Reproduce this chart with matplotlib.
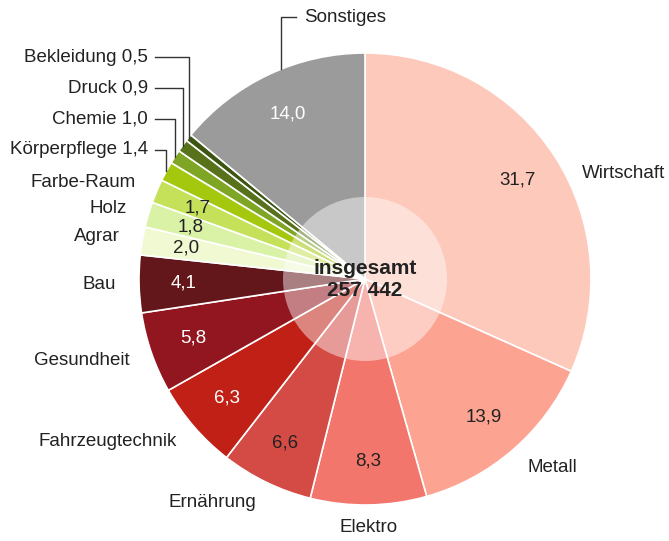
import numpy as np
import matplotlib.pyplot as plt
from matplotlib.patches import Circle

plt.rcParams['font.family'] = ['Liberation Sans', 'DejaVu Sans']

# Anteile in Prozent, im Uhrzeigersinn ab 12 Uhr
branchen = ["Wirtschaft", "Metall", "Elektro", "Ernährung", "Fahrzeugtechnik",
            "Gesundheit", "Bau", "Agrar", "Holz", "Farbe-Raum", "Körperpflege",
            "Chemie", "Druck", "Bekleidung", "Sonstiges"]
anteile = [31.7, 13.9, 8.3, 6.6, 6.3, 5.8, 4.1, 2.0, 1.8, 1.7, 1.4, 1.0, 0.9, 0.5, 14.0]
farben = ["#fdc9bb", "#fca391", "#f2766c", "#d44a44", "#c02015",
          "#92161f", "#63171a", "#f0f9d2", "#d9f2a6", "#c5e15a", "#a4c80e",
          "#7ea624", "#58721c", "#3c5510", "#9b9b9b"]
weisse_zahl = ["Fahrzeugtechnik", "Gesundheit", "Bau", "Sonstiges"]
mit_linie = ["Körperpflege", "Chemie", "Druck", "Bekleidung"]
gesamt = "257 442"

W, H = 669, 541
cx, cy = 365, H - 279
r = 226
dunkel = "#222222"

fig = plt.figure(figsize=(W / 100, H / 100), dpi=100)
ax = fig.add_axes([0, 0, 1, 1])

ax.pie(anteile, colors=farben, startangle=90, counterclock=False,
       center=(cx, cy), radius=r, frame=True,
       wedgeprops=dict(edgecolor="white", linewidth=1.2))
ax.add_patch(Circle((cx, cy), 82, facecolor="white", alpha=0.45, edgecolor="none", zorder=5))
ax.set_xlim(0, W)
ax.set_ylim(0, H)
ax.set_aspect("equal")
ax.axis("off")


def punkt(winkel, d):
    t = np.radians(winkel)
    return cx + d * np.sin(t), cy + d * np.cos(t)


grenzen = np.concatenate([[0], np.cumsum(anteile)]) / sum(anteile) * 360
mitten = (grenzen[:-1] + grenzen[1:]) / 2

fs = 13.5
zeile = 0
for name, wert, mitte in zip(branchen, anteile, mitten):
    zahl = f"{wert:.1f}".replace(".", ",")
    if name in mit_linie:
        # Beschriftung links oben mit Führungslinie
        x0, y0 = punkt(mitte, r)
        ly = H - (150 - 31 * zeile)
        zeile += 1
        ax.plot([x0, x0, 155], [y0, ly, ly], color="#333333", lw=1.0, zorder=6)
        ax.text(148, ly, f"{name} {zahl}", ha="right", va="center",
                fontsize=fs, color=dunkel, zorder=7)
        continue

    zx, zy = punkt(mitte, r * 0.805)
    ax.text(zx, zy, zahl, ha="center", va="center", fontsize=fs,
            color="white" if name in weisse_zahl else dunkel, zorder=7)

    if name == "Sonstiges":
        x0, y0 = punkt(mitte + 3.5, r)
        ly = H - 17
        ax.plot([x0, x0, x0 + 15], [y0, ly, ly], color="#333333", lw=1.0, zorder=6)
        ax.text(x0 + 23, ly, name, ha="left", va="center", fontsize=fs, color=dunkel)
        continue

    if name == "Wirtschaft":
        winkel, abstand = mitte + 7, r + 15
    else:
        winkel, abstand = mitte, r + 23
    lx, ly = punkt(winkel, abstand)
    s = np.sin(np.radians(winkel))
    ha = "center" if abs(s) < 0.1 else ("left" if s > 0 else "right")
    ax.text(lx, ly, name, ha=ha, va="center", fontsize=fs, color=dunkel)

ax.text(cx, cy + 11, "insgesamt", ha="center", va="center", fontsize=15,
        fontweight="bold", color=dunkel, zorder=8)
ax.text(cx, cy - 11, gesamt, ha="center", va="center", fontsize=15,
        fontweight="bold", color=dunkel, zorder=8)

fig.savefig("out.png", dpi=100)
